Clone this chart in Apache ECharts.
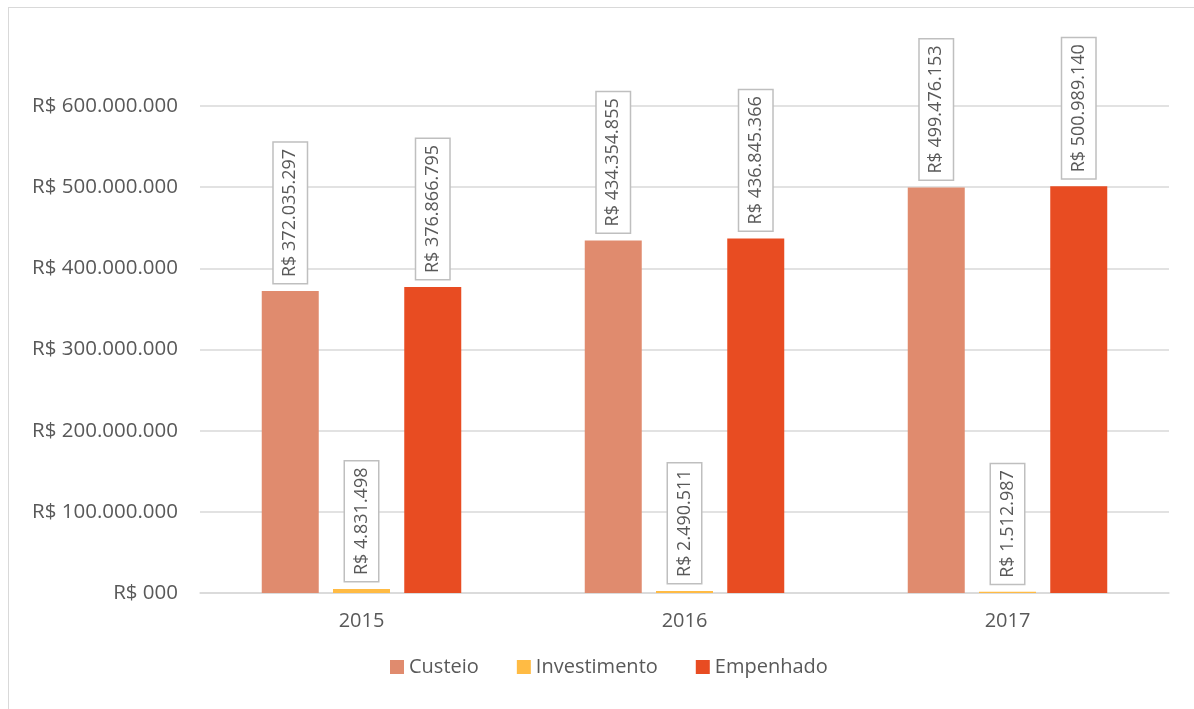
<!DOCTYPE html>
<html>
<head>
<meta charset="utf-8">
<script src="https://cdn.jsdelivr.net/npm/echarts@6/dist/echarts.min.js"></script>
<style>
  html, body { margin: 0; padding: 0; background: #fff; }
  #frame {
    position: absolute; left: 8px; top: 7px; width: 1200px; height: 720px;
    border: 1px solid #d9d9d9; box-sizing: border-box;
  }
  #chart { position: absolute; left: 0; top: 0; width: 1194px; height: 709px; }
</style>
</head>
<body>
<div id="frame"></div>
<div id="chart"></div>
<script>
// dados do gráfico
const anos = ["2015", "2016", "2017"];
const custeio = [372035297, 434354855, 499476153];
const investimento = [4831498, 2490511, 1512987];
const empenhado = [376866795, 436845366, 500989140];
const yTicks = [0, 100000000, 200000000, 300000000, 400000000, 500000000, 600000000];

const cinza = "#595959";
const fonte = "'Open Sans', 'Noto Sans', sans-serif";

// formata número no padrão brasileiro
function brl(v) {
  if (v === 0) return "R$ 000";
  return "R$ " + String(Math.round(v)).replace(/\B(?=(\d{3})+(?!\d))/g, ".");
}

let rotulo = {
  show: true,
  position: "top",
  distance: 8,
  rotate: 90,
  align: "left",
  verticalAlign: "middle",
  color: cinza,
  fontFamily: fonte,
  fontSize: 18,
  lineHeight: 20,
  backgroundColor: "#fff",
  borderColor: "#bfbfbf",
  borderWidth: 1.5,
  padding: [7, 6, 6, 6],
  formatter: (p) => brl(p.value),
};

const chart = echarts.init(document.getElementById("chart"));
chart.setOption({
  animation: false,
  textStyle: { fontFamily: fonte },
  grid: { left: 200, right: 25, top: 106, bottom: 116, containLabel: false },
  legend: {
    top: 652,
    left: 385,
    itemWidth: 14,
    itemHeight: 14,
    itemGap: 38,
    icon: "rect",
    textStyle: { color: cinza, fontSize: 20, fontFamily: fonte },
    data: ["Custeio", "Investimento", "Empenhado"],
  },
  xAxis: {
    type: "category",
    data: anos,
    axisLine: { lineStyle: { color: "#d9d9d9", width: 1.5 } },
    axisTick: { show: false },
    axisLabel: { color: cinza, fontSize: 20, margin: 18, fontFamily: fonte },
  },
  yAxis: {
    type: "value",
    min: yTicks[0],
    max: yTicks[yTicks.length - 1],
    interval: 100000000,
    axisLine: { show: false },
    axisTick: { show: false },
    splitLine: { lineStyle: { color: "#d9d9d9", width: 1.5 } },
    axisLabel: { color: cinza, fontSize: 20.5, margin: 22, fontFamily: fonte, formatter: brl },
  },
  series: [
    { name: "Custeio", type: "bar", data: custeio, barWidth: 57, barGap: "25%",
      itemStyle: { color: "#e08b6e" }, label: rotulo },
    { name: "Investimento", type: "bar", data: investimento, barWidth: 57, barGap: "25%",
      itemStyle: { color: "#ffbb44" }, label: rotulo },
    { name: "Empenhado", type: "bar", data: empenhado, barWidth: 57, barGap: "25%",
      itemStyle: { color: "#e84c22" }, label: rotulo },
  ],
});
</script>
</body>
</html>
